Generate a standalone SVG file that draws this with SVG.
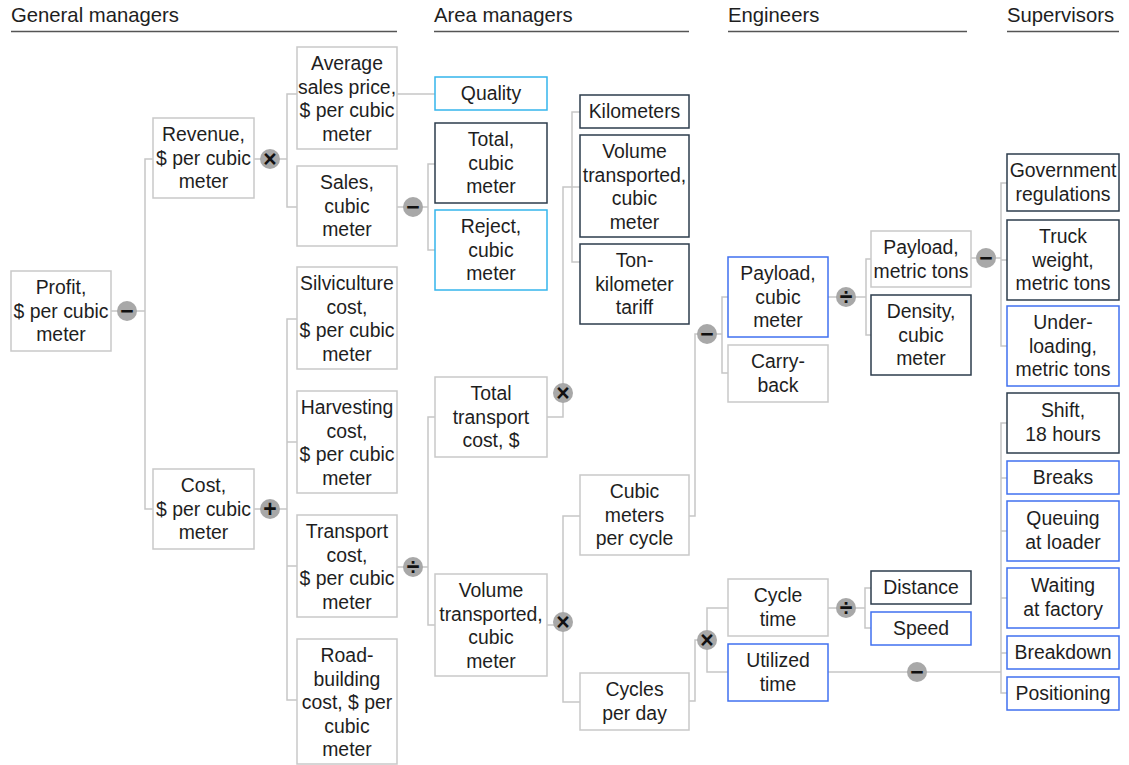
<svg xmlns="http://www.w3.org/2000/svg" width="1129" height="765" viewBox="0 0 1129 765">
<style>
text{font-family:"Liberation Sans",Arial,sans-serif;fill:#1e1e1e}
.h{font-size:20.3px}
.hl{stroke:#555;stroke-width:1.5}
.t{font-size:19.4px;text-anchor:middle}
rect{fill:#fff;stroke-width:1.5}
.g{stroke:#c9c9c9}
.d{stroke:#2c3c4c}
.c{stroke:#35b5ec}
.b{stroke:#4070f0}
#connectors path{fill:none;stroke:#c6c6c6;stroke-width:1.5}
.op circle{fill:#a8a8a8}
.op text{font-family:"Liberation Sans",Arial,sans-serif;font-size:23px;font-weight:bold;text-anchor:middle;fill:#111}
</style>
<rect width="1129" height="765" fill="#fff" stroke="none"/>
<g id="headers">
<text class="h" x="11" y="22">General managers</text>
<line class="hl" x1="11" y1="31.5" x2="397" y2="31.5"/>
<text class="h" x="434" y="22">Area managers</text>
<line class="hl" x1="434" y1="31.5" x2="689" y2="31.5"/>
<text class="h" x="728" y="22">Engineers</text>
<line class="hl" x1="728" y1="31.5" x2="967" y2="31.5"/>
<text class="h" x="1007" y="22">Supervisors</text>
<line class="hl" x1="1007" y1="31.5" x2="1119" y2="31.5"/>
</g>
<g id="connectors">
<path d="M111 311H145M153 159H145V509H153"/>
<path d="M254 159H287M297 94H287V207H297"/>
<path d="M254 509H287M297 319H287V700H297M287 442H297M287 566H297"/>
<path d="M397 94H435"/>
<path d="M397 207H428M435 164H428V250H435"/>
<path d="M397 567H428M435 417H428V625H435"/>
<path d="M547 417H563V187H580M580 112H572V262H580"/>
<path d="M547 625H563M580 516H563V702H580"/>
<path d="M689 516H695V334H722M728 297H722V373H728"/>
<path d="M689 701H695V640H707M728 608H707V672H728"/>
<path d="M828 297H866M871 259H866V335H871"/>
<path d="M971 258H1001M1007 183H1001V346H1007M1001 260H1007"/>
<path d="M828 608H865M871 588H865V628H871"/>
<path d="M828 672H1001M1007 423H1001V693H1007M1001 478H1007M1001 531H1007M1001 598H1007M1001 653H1007"/>
</g>
<g id="profit"><rect class="g" x="11" y="271" width="100" height="80"/><text class="t" x="61"><tspan x="61" y="294">Profit,</tspan><tspan x="61" y="317.5">$ per cubic</tspan><tspan x="61" y="341">meter</tspan></text></g>
<g id="revenue"><rect class="g" x="153" y="118" width="101" height="80"/><text class="t"><tspan x="203.5" y="141">Revenue,</tspan><tspan x="203.5" y="164.5">$ per cubic</tspan><tspan x="203.5" y="188">meter</tspan></text></g>
<g id="cost"><rect class="g" x="153" y="469" width="101" height="80"/><text class="t"><tspan x="203.5" y="492">Cost,</tspan><tspan x="203.5" y="515.5">$ per cubic</tspan><tspan x="203.5" y="539">meter</tspan></text></g>
<g id="avg-price"><rect class="g" x="297" y="47" width="100" height="102"/><text class="t"><tspan x="347" y="70">Average</tspan><tspan x="347" y="93.5">sales price,</tspan><tspan x="347" y="117">$ per cubic</tspan><tspan x="347" y="140.5">meter</tspan></text></g>
<g id="sales"><rect class="g" x="297" y="166" width="100" height="80"/><text class="t"><tspan x="347" y="189">Sales,</tspan><tspan x="347" y="212.5">cubic</tspan><tspan x="347" y="236">meter</tspan></text></g>
<g id="silviculture"><rect class="g" x="297" y="267" width="100" height="102"/><text class="t"><tspan x="347" y="290">Silviculture</tspan><tspan x="347" y="313.5">cost,</tspan><tspan x="347" y="337">$ per cubic</tspan><tspan x="347" y="360.5">meter</tspan></text></g>
<g id="harvesting"><rect class="g" x="297" y="391" width="100" height="102"/><text class="t"><tspan x="347" y="414">Harvesting</tspan><tspan x="347" y="437.5">cost,</tspan><tspan x="347" y="461">$ per cubic</tspan><tspan x="347" y="484.5">meter</tspan></text></g>
<g id="transport"><rect class="g" x="297" y="515" width="100" height="102"/><text class="t"><tspan x="347" y="538">Transport</tspan><tspan x="347" y="561.5">cost,</tspan><tspan x="347" y="585">$ per cubic</tspan><tspan x="347" y="608.5">meter</tspan></text></g>
<g id="road"><rect class="g" x="297" y="639" width="100" height="125"/><text class="t"><tspan x="347" y="662">Road-</tspan><tspan x="347" y="685.5">building</tspan><tspan x="347" y="709">cost, $ per</tspan><tspan x="347" y="732.5">cubic</tspan><tspan x="347" y="756">meter</tspan></text></g>
<g id="quality"><rect class="c" x="435" y="77" width="112" height="33"/><text class="t" x="491" y="100">Quality</text></g>
<g id="total"><rect class="d" x="435" y="123" width="112" height="80"/><text class="t"><tspan x="491" y="146">Total,</tspan><tspan x="491" y="169.5">cubic</tspan><tspan x="491" y="193">meter</tspan></text></g>
<g id="reject"><rect class="c" x="435" y="210" width="112" height="80"/><text class="t"><tspan x="491" y="233">Reject,</tspan><tspan x="491" y="256.5">cubic</tspan><tspan x="491" y="280">meter</tspan></text></g>
<g id="total-transport"><rect class="g" x="435" y="377" width="112" height="80"/><text class="t"><tspan x="491" y="400">Total</tspan><tspan x="491" y="423.5">transport</tspan><tspan x="491" y="447">cost, $</tspan></text></g>
<g id="volume"><rect class="g" x="435" y="574" width="112" height="102"/><text class="t"><tspan x="491" y="597">Volume</tspan><tspan x="491" y="620.5">transported,</tspan><tspan x="491" y="644">cubic</tspan><tspan x="491" y="667.5">meter</tspan></text></g>
<g id="kilometers"><rect class="d" x="580" y="95" width="109" height="33"/><text class="t" x="634.5" y="118">Kilometers</text></g>
<g id="volume2"><rect class="d" x="580" y="135" width="109" height="102"/><text class="t"><tspan x="634.5" y="158">Volume</tspan><tspan x="634.5" y="181.5">transported,</tspan><tspan x="634.5" y="205">cubic</tspan><tspan x="634.5" y="228.5">meter</tspan></text></g>
<g id="tariff"><rect class="d" x="580" y="244" width="109" height="80"/><text class="t"><tspan x="634.5" y="267">Ton-</tspan><tspan x="634.5" y="290.5">kilometer</tspan><tspan x="634.5" y="314">tariff</tspan></text></g>
<g id="per-cycle"><rect class="g" x="580" y="475" width="109" height="80"/><text class="t"><tspan x="634.5" y="498">Cubic</tspan><tspan x="634.5" y="521.5">meters</tspan><tspan x="634.5" y="545">per cycle</tspan></text></g>
<g id="cycles-day"><rect class="g" x="580" y="673" width="109" height="57"/><text class="t"><tspan x="634.5" y="696">Cycles</tspan><tspan x="634.5" y="719.5">per day</tspan></text></g>
<g id="payload-m3"><rect class="b" x="728" y="257" width="100" height="80"/><text class="t"><tspan x="778" y="280">Payload,</tspan><tspan x="778" y="303.5">cubic</tspan><tspan x="778" y="327">meter</tspan></text></g>
<g id="carry-back"><rect class="g" x="728" y="345" width="100" height="57"/><text class="t"><tspan x="778" y="368">Carry-</tspan><tspan x="778" y="391.5">back</tspan></text></g>
<g id="cycle-time"><rect class="g" x="728" y="579" width="100" height="57"/><text class="t"><tspan x="778" y="602">Cycle</tspan><tspan x="778" y="625.5">time</tspan></text></g>
<g id="utilized"><rect class="b" x="728" y="644" width="100" height="57"/><text class="t"><tspan x="778" y="667">Utilized</tspan><tspan x="778" y="690.5">time</tspan></text></g>
<g id="payload-t"><rect class="g" x="871" y="231" width="100" height="56"/><text class="t"><tspan x="921" y="254">Payload,</tspan><tspan x="921" y="277.5">metric tons</tspan></text></g>
<g id="density"><rect class="d" x="871" y="295" width="100" height="80"/><text class="t"><tspan x="921" y="318">Density,</tspan><tspan x="921" y="341.5">cubic</tspan><tspan x="921" y="365">meter</tspan></text></g>
<g id="distance"><rect class="d" x="871" y="571" width="100" height="33"/><text class="t" x="921" y="594">Distance</text></g>
<g id="speed"><rect class="b" x="871" y="612" width="100" height="33"/><text class="t" x="921" y="635">Speed</text></g>
<g id="gov"><rect class="d" x="1007" y="154" width="112" height="57"/><text class="t"><tspan x="1063" y="177">Government</tspan><tspan x="1063" y="200.5">regulations</tspan></text></g>
<g id="truck"><rect class="d" x="1007" y="220" width="112" height="80"/><text class="t"><tspan x="1063" y="243">Truck</tspan><tspan x="1063" y="266.5">weight,</tspan><tspan x="1063" y="290">metric tons</tspan></text></g>
<g id="underloading"><rect class="b" x="1007" y="306" width="112" height="80"/><text class="t"><tspan x="1063" y="329">Under-</tspan><tspan x="1063" y="352.5">loading,</tspan><tspan x="1063" y="376">metric tons</tspan></text></g>
<g id="shift"><rect class="d" x="1007" y="393" width="112" height="60"/><text class="t"><tspan x="1063" y="417">Shift,</tspan><tspan x="1063" y="440.5">18 hours</tspan></text></g>
<g id="breaks"><rect class="b" x="1007" y="461" width="112" height="33"/><text class="t" x="1063" y="484">Breaks</text></g>
<g id="queuing"><rect class="b" x="1007" y="501" width="112" height="60"/><text class="t"><tspan x="1063" y="525">Queuing</tspan><tspan x="1063" y="548.5">at loader</tspan></text></g>
<g id="waiting"><rect class="b" x="1007" y="568" width="112" height="60"/><text class="t"><tspan x="1063" y="592">Waiting</tspan><tspan x="1063" y="615.5">at factory</tspan></text></g>
<g id="breakdown"><rect class="b" x="1007" y="636" width="112" height="33"/><text class="t" x="1063" y="659">Breakdown</text></g>
<g id="positioning"><rect class="b" x="1007" y="677" width="112" height="33"/><text class="t" x="1063" y="700">Positioning</text></g>
<g id="operators" class="op">
<g><circle cx="127" cy="311" r="10"/><text x="127" y="319">−</text></g>
<g><circle cx="270" cy="159" r="10"/><text x="270" y="167">×</text></g>
<g><circle cx="270" cy="509" r="10"/><text x="270" y="517">+</text></g>
<g><circle cx="413" cy="207" r="10"/><text x="413" y="215">−</text></g>
<g><circle cx="413" cy="567" r="10"/><text x="413" y="575">÷</text></g>
<g><circle cx="563" cy="393" r="10"/><text x="563" y="401">×</text></g>
<g><circle cx="563" cy="622" r="10"/><text x="563" y="630">×</text></g>
<g><circle cx="707" cy="334" r="10"/><text x="707" y="342">−</text></g>
<g><circle cx="707" cy="640" r="10"/><text x="707" y="648">×</text></g>
<g><circle cx="846" cy="297" r="10"/><text x="846" y="305">÷</text></g>
<g><circle cx="846" cy="608" r="10"/><text x="846" y="616">÷</text></g>
<g><circle cx="986" cy="258" r="10"/><text x="986" y="266">−</text></g>
<g><circle cx="917" cy="672" r="10"/><text x="917" y="680">−</text></g>
</g>
</svg>
